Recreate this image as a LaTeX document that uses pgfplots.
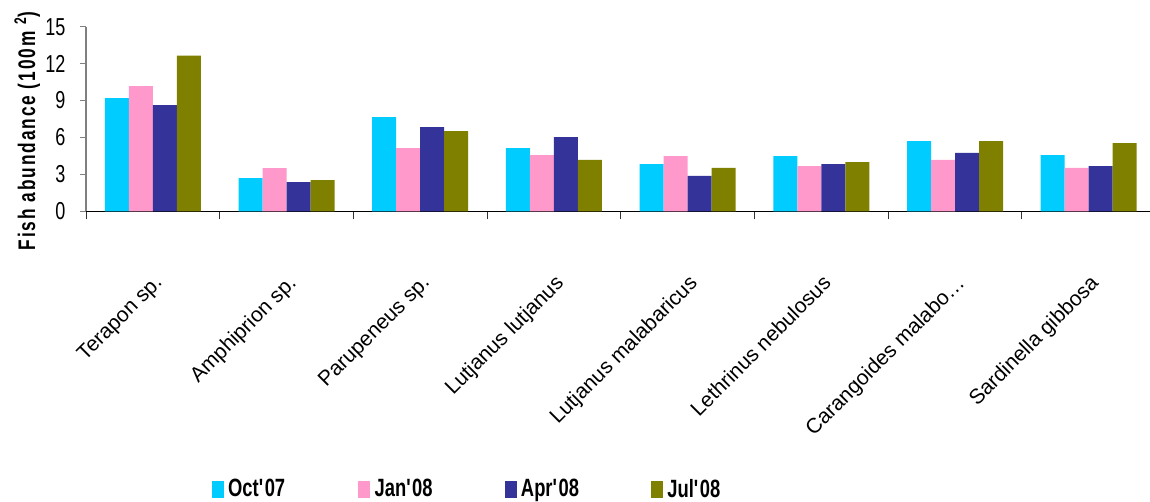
\documentclass[border=0pt]{standalone}
\usepackage{fontspec}
\setmainfont{Liberation Sans}
% narrow Arial-like faces for tick numbers, legend and the y title
\newfontfamily\cond[FakeStretch=0.735]{Liberation Sans}
\newfontfamily\ylabfont[FakeStretch=0.72,LetterSpace=8]{Liberation Sans}
\usepackage{pgfplots}
\pgfplotsset{compat=1.18}

\definecolor{oct}{HTML}{00CCFF}
\definecolor{jan}{HTML}{FF99CC}
\definecolor{apr}{HTML}{333399}
\definecolor{jul}{HTML}{808000}

\pgfplotsset{sqleg/.style={legend image code/.code={\fill[##1,draw=none] (0pt,-9.3pt) rectangle (11.8pt,7.5pt);}}}

% fish abundance per 100 m^2, by species and sampling month
\pgfplotstableread{
idx oct   jan   apr   jul
0   9.20  10.18 8.63  12.65
1   2.70  3.50  2.38  2.54
2   7.66  5.14  6.85  6.52
3   5.14  4.57  6.03  4.17
4   3.84  4.49  2.87  3.52
5   4.49  3.68  3.84  4.00
6   5.71  4.17  4.74  5.71
7   4.57  3.52  3.68  5.55
}\abund

\begin{document}
\begin{tikzpicture}
\begin{axis}[
  at={(0pt,0pt)}, anchor=south west,
  scale only axis, width=1064pt, height=184.6pt,
  xmin=-0.5, xmax=7.458, ymin=0, ymax=15,
  enlargelimits=false,
  axis x line*=bottom, axis y line*=left,
  xtick pos=left, ytick pos=left,
  tick align=outside,
  x axis line style={black, line width=1pt},
  y axis line style={gray, line width=1.2pt},
  ytick={0,3,6,9,12,15},
  major tick length=6pt,
  ytick style={gray, line width=0.9pt},
  xtick={0,1,2,3,4,5,6,7},
  xticklabels={
    {Terapon sp.},
    {Amphiprion sp.},
    {Parupeneus sp.},
    {Lutjanus lutjanus},
    {Lutjanus malabaricus},
    {Lethrinus nebulosus},
    {Carangoides malabo\ldots},
    {Sardinella gibbosa}},
  major x tick style={draw=none},
  minor xtick={-0.5,0.5,1.5,2.5,3.5,4.5,5.5,6.5,7.5},
  minor tick length=8pt,
  minor x tick style={black!80, line width=0.9pt},
  xticklabel style={font=\fontsize{21pt}{25pt}\selectfont, rotate=45, anchor=north east, inner sep=0pt},
  xticklabel shift=56pt,
  /pgf/number format/assume math mode=true,
  yticklabel style={font=\cond\fontsize{24.5pt}{29pt}\selectfont, anchor=east, inner sep=0pt},
  yticklabel shift=14.3pt,
  every axis y label/.style={at={(axis description cs:-0.0479,0.435)}, rotate=90, anchor=base,
    inner sep=0pt, font=\ylabfont\bfseries\fontsize{24pt}{28pt}\selectfont},
  ylabel={Fish abundance (100m \textsuperscript{2})},
  ybar=0pt, bar width=24pt,
  legend columns=4,
  legend style={at={(axis description cs:0.11852,-1.5571)}, anchor=south west,
    draw=none, fill=none, inner sep=0pt, outer sep=0pt, column sep=0pt,
    font=\cond\bfseries\fontsize{25pt}{29pt}\selectfont,
    nodes={inner sep=0pt, text width=130.3pt, align=left},
    /tikz/every odd column/.append style={column sep=4.3pt}},
]
\addplot[fill=oct, draw=none, sqleg] table[x=idx, y=oct] {\abund};
\addplot[fill=jan, draw=none, sqleg] table[x=idx, y=jan] {\abund};
\addplot[fill=apr, draw=none, sqleg] table[x=idx, y=apr] {\abund};
\addplot[fill=jul, draw=none, sqleg] table[x=idx, y=jul] {\abund};
\legend{Oct\textquotesingle07, Jan\textquotesingle08, Apr\textquotesingle08, Jul\textquotesingle08}
\end{axis}
\pgfresetboundingbox
\path[use as bounding box] (-86pt,-289.7pt) rectangle (1064pt,211.3pt);
\end{tikzpicture}
\end{document}
